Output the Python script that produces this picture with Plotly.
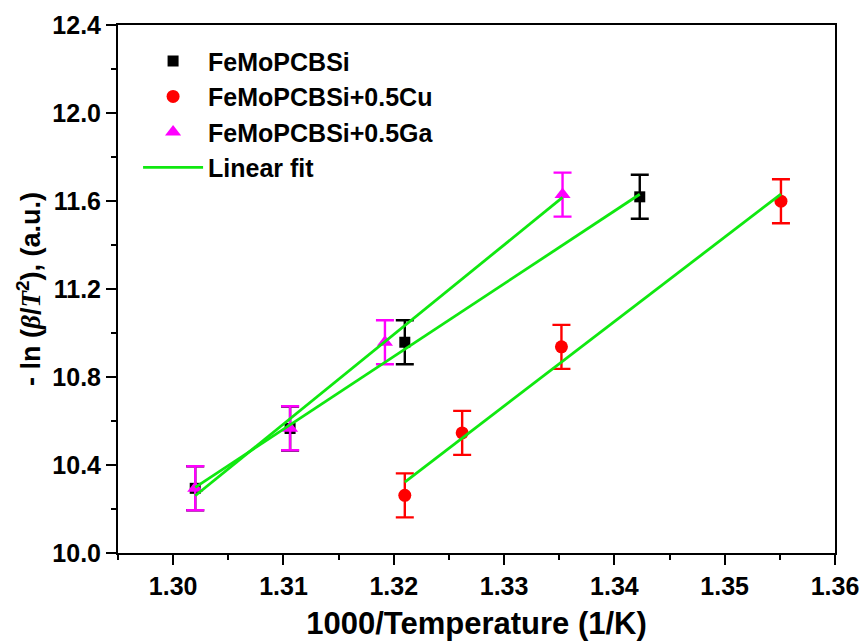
import numpy as np
import plotly.graph_objects as go

# Inverse temperature (1000/T, 1/K) and -ln(beta/T^2) for each alloy
x_base = [1.3020, 1.3106, 1.3210, 1.3423]
y_base = [10.294, 10.566, 10.958, 11.619]
err_base = [0.1, 0.1, 0.1, 0.1]

x_cu = [1.3210, 1.3262, 1.3352, 1.3551]
y_cu = [10.262, 10.546, 10.937, 11.599]
err_cu = [0.1, 0.1, 0.1, 0.1]

x_ga = [1.3020, 1.3106, 1.3192, 1.3353]
y_ga = [10.294, 10.567, 10.958, 11.629]
err_ga = [0.1, 0.1, 0.1, 0.1]

names = ["FeMoPCBSi", "FeMoPCBSi+0.5Cu", "FeMoPCBSi+0.5Ga"]
x_ticks = [1.30, 1.31, 1.32, 1.33, 1.34, 1.35, 1.36]
y_ticks = [10.0, 10.4, 10.8, 11.2, 11.6, 12.0, 12.4]

FONT = "Liberation Sans, Arial, sans-serif"
FIT_GREEN = "#10e810"

series = [
    (x_base, y_base, err_base, names[0], "black", "square", 11),
    (x_cu, y_cu, err_cu, names[1], "#ff0000", "circle", 13),
    (x_ga, y_ga, err_ga, names[2], "#ff00ff", "triangle-up", 14),
]

fig = go.Figure()

for xs, ys, es, name, color, symbol, size in series:
    fig.add_trace(go.Scatter(
        x=xs, y=ys, mode="markers", name=name,
        marker=dict(symbol=symbol, size=size, color=color, line=dict(width=0)),
        error_y=dict(type="data", array=es, visible=True, color=color,
                     thickness=2.4, width=9),
    ))

# Least-squares linear fit of each series, drawn over its data range
for i, (xs, ys, *_rest) in enumerate(series):
    slope, intercept = np.polyfit(xs, ys, 1)
    xf = np.array([min(xs), max(xs)])
    fig.add_trace(go.Scatter(
        x=xf, y=slope * xf + intercept, mode="lines",
        name="Linear fit", legendgroup="fit", showlegend=(i == 0),
        line=dict(color=FIT_GREEN, width=2.8),
    ))

y_title = ("- ln (<span style=\"font-family:'Liberation Serif';font-style:italic\">β</span>/"
           "<span style=\"font-family:'Liberation Serif';font-style:italic\">T</span>"
           "<sup>2</sup>), (a.u.)")

fig.update_layout(
    width=863, height=641,
    margin=dict(l=118, r=28, t=25, b=88),
    paper_bgcolor="white", plot_bgcolor="white",
    font=dict(family=FONT, color="black"),
    showlegend=True,
    legend=dict(
        x=0.028, y=0.975, xanchor="left", yanchor="top",
        bgcolor="rgba(0,0,0,0)", borderwidth=0,
        font=dict(family=FONT, size=25, color="black", weight="bold"),
        itemwidth=60, tracegroupgap=0,
    ),
    xaxis=dict(
        range=[1.295, 1.36], tickvals=x_ticks, tickformat=".2f",
        ticks="outside", ticklen=10, tickwidth=2, tickcolor="black",
        minor=dict(dtick=0.005, tick0=1.30, ticks="outside", ticklen=5,
                   tickwidth=2, tickcolor="black", showgrid=False),
        showline=True, linewidth=2, linecolor="black", mirror=True,
        showgrid=False, zeroline=False, automargin=False,
        tickfont=dict(family=FONT, size=25, color="black", weight="bold"),
        title=dict(text="1000/Temperature (1/K)", standoff=14,
                   font=dict(family=FONT, size=31, color="black", weight="bold")),
    ),
    yaxis=dict(
        range=[10.0, 12.4], tickvals=y_ticks, tickformat=".1f",
        ticks="outside", ticklen=10, tickwidth=2, tickcolor="black",
        minor=dict(dtick=0.2, tick0=10.0, ticks="outside", ticklen=5,
                   tickwidth=2, tickcolor="black", showgrid=False),
        showline=True, linewidth=2, linecolor="black", mirror=True,
        showgrid=False, zeroline=False, automargin=False,
        tickfont=dict(family=FONT, size=25, color="black", weight="bold"),
        title=dict(text=y_title, standoff=4,
                   font=dict(family=FONT, size=27, color="black", weight="bold")),
    ),
)

fig.write_html("out.html")
